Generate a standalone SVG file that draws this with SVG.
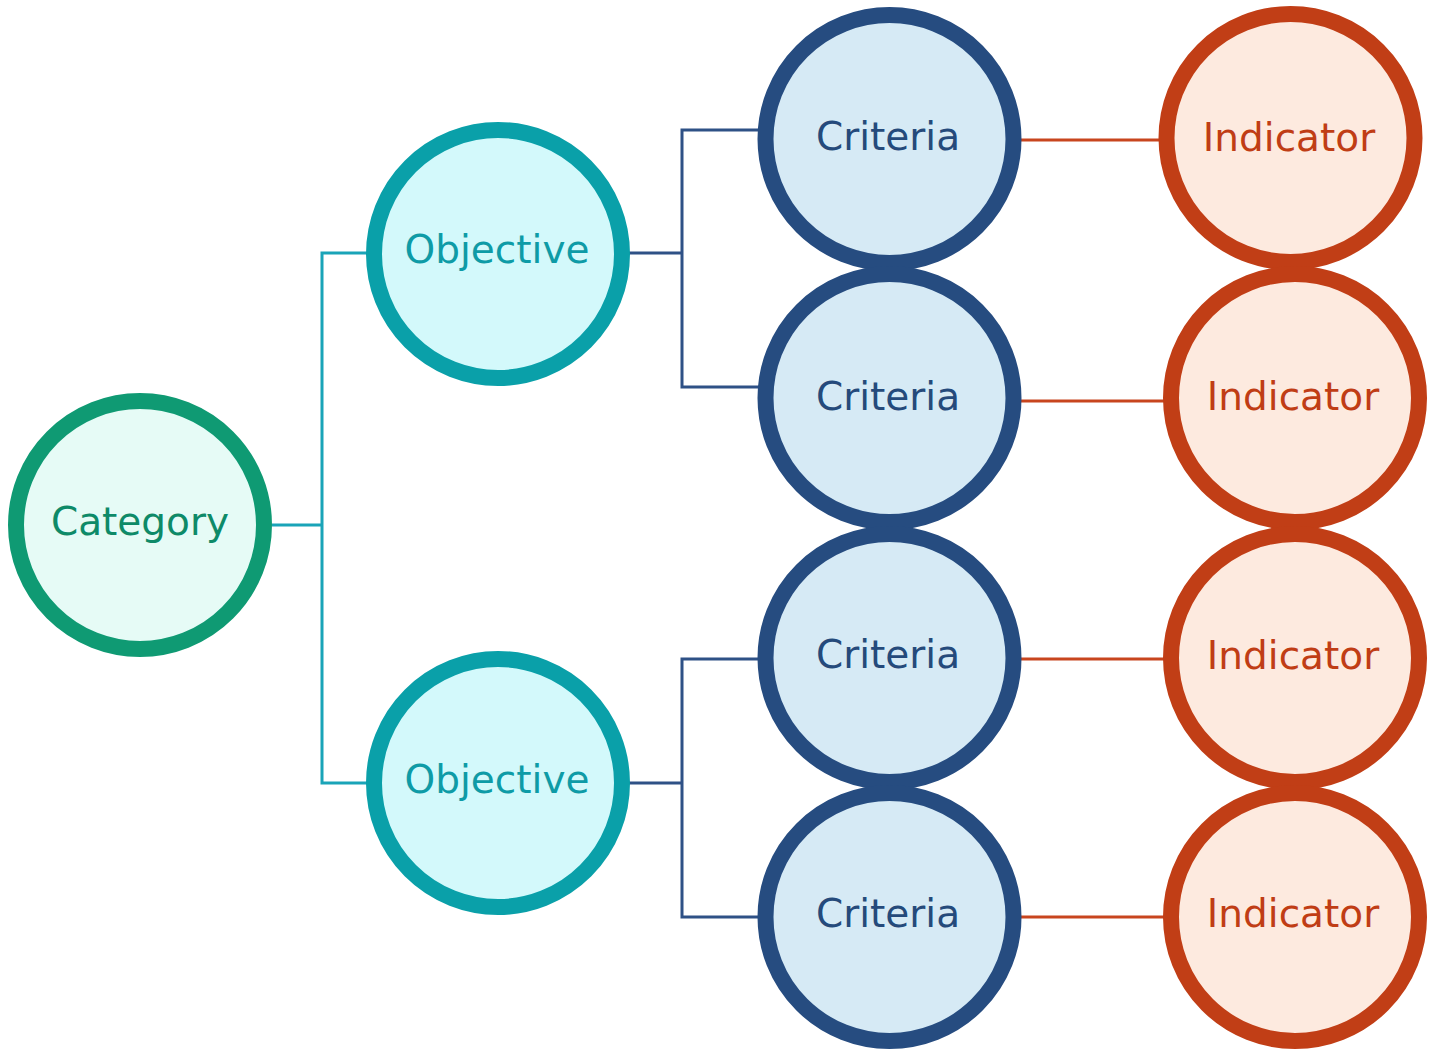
<svg xmlns="http://www.w3.org/2000/svg" width="1436" height="1049" viewBox="0 0 1436 1049">
<style>
.lbl{font-family:"DejaVu Sans",sans-serif;font-size:39px;text-anchor:middle}
.cat circle{fill:#e6fbf6;stroke:#0f9a73;stroke-width:16}
.cat text{fill:#0e8a68}
.obj circle{fill:#d3f9fb;stroke:#0aa0a9;stroke-width:16}
.obj text{fill:#0e9ba6}
.cri circle{fill:#d6eaf5;stroke:#264c80;stroke-width:16}
.cri text{fill:#254a7b}
.ind circle{fill:#fdeadf;stroke:#c13e16;stroke-width:16}
.ind text{fill:#c03d15}
.c1{stroke:#1aa4b8;stroke-width:3;fill:none;stroke-linejoin:miter}
.c2{stroke:#2e5186;stroke-width:3;fill:none;stroke-linejoin:miter}
.c3{stroke:#c8451e;stroke-width:3;fill:none}
</style>
<rect width="1436" height="1049" fill="#ffffff"/>
<g id="connectors">
<path class="c1" d="M272,525 H322"/>
<path class="c1" d="M368,253 H322 V783 H368"/>
<path class="c2" d="M629,253 H682"/>
<path class="c2" d="M760,130 H682 V387 H760"/>
<path class="c2" d="M629,783 H682"/>
<path class="c2" d="M760,659 H682 V917 H760"/>
<path class="c3" d="M1020,140 H1162 M1020,401 H1166 M1020,659 H1166 M1020,917 H1166"/>
</g>
<g id="category" class="cat"><circle cx="140" cy="525" r="124"/><text class="lbl" x="140" y="535">Category</text></g>
<g id="objective1" class="obj"><circle cx="498" cy="254" r="124"/><text class="lbl" x="497" y="263">Objective</text></g>
<g id="objective2" class="obj"><circle cx="498" cy="783" r="124"/><text class="lbl" x="497" y="793">Objective</text></g>
<g id="criteria1" class="cri"><circle cx="889.5" cy="139" r="124"/><text class="lbl" x="888" y="150">Criteria</text></g>
<g id="criteria2" class="cri"><circle cx="889.5" cy="398" r="124"/><text class="lbl" x="888" y="410">Criteria</text></g>
<g id="criteria3" class="cri"><circle cx="889.5" cy="658" r="124"/><text class="lbl" x="888" y="668">Criteria</text></g>
<g id="criteria4" class="cri"><circle cx="889.5" cy="917" r="124"/><text class="lbl" x="888" y="927">Criteria</text></g>
<g id="indicator1" class="ind"><circle cx="1290.5" cy="138" r="124"/><text class="lbl" x="1289" y="151">Indicator</text></g>
<g id="indicator2" class="ind"><circle cx="1295" cy="398" r="124"/><text class="lbl" x="1293" y="410">Indicator</text></g>
<g id="indicator3" class="ind"><circle cx="1295" cy="658" r="124"/><text class="lbl" x="1293" y="669">Indicator</text></g>
<g id="indicator4" class="ind"><circle cx="1295" cy="917" r="124"/><text class="lbl" x="1293" y="927">Indicator</text></g>
</svg>
